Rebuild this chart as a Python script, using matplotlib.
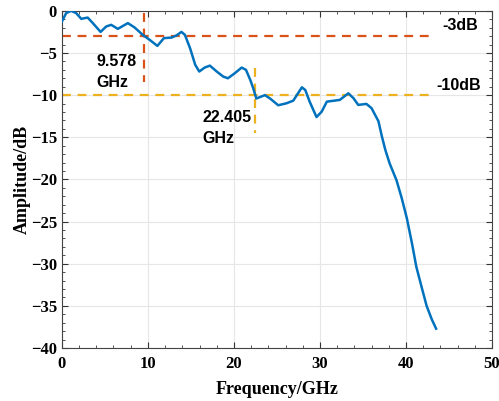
import matplotlib.pyplot as plt
import numpy as np
from matplotlib.ticker import MultipleLocator

freq = [0.0, 0.5, 1.08, 1.66, 2.25, 3.0, 3.6, 4.5, 5.15, 5.73, 6.5, 7.67,
        8.45, 9.4, 10.2, 11.1, 11.86, 12.75, 13.3, 13.9, 14.3, 14.9, 15.5,
        15.97, 16.6, 17.2, 18.0, 18.76, 19.3, 20.1, 20.9, 21.4, 21.9, 22.25,
        22.6, 23.6, 24.2, 25.15, 26.1, 26.9, 27.9, 28.3, 28.8, 29.6, 30.2,
        30.8, 31.7, 32.3, 33.3, 33.9, 34.45, 35.4, 36.0, 36.8, 37.2, 37.6,
        38.1, 38.9, 39.5, 40.1, 40.7, 41.2, 41.8, 42.4, 43.0, 43.5]
amp = [-1.27, -0.27, 0.0, -0.27, -0.95, -0.8, -1.46, -2.5, -1.86, -1.66,
       -2.14, -1.46, -1.97, -2.85, -3.44, -4.16, -3.24, -3.17, -2.93, -2.5,
       -2.85, -4.43, -6.4, -7.2, -6.73, -6.5, -7.2, -7.8, -8.0, -7.4, -6.73,
       -7.0, -8.2, -9.2, -10.4, -10.0, -10.4, -11.2, -10.97, -10.65, -9.07,
       -9.4, -10.77, -12.6, -11.96, -10.77, -10.65, -10.57, -9.78, -10.37,
       -11.16, -11.04, -11.55, -13.1, -14.9, -16.5, -18.1, -20.1, -22.2,
       -24.6, -27.6, -30.35, -32.7, -35.0, -36.6, -37.7]

f3db = 9.578
f10db = 22.405

plt.rcParams['font.family'] = 'Liberation Serif'
fig, ax = plt.subplots(figsize=(4.99, 4.01), dpi=100)
fig.subplots_adjust(left=0.124, right=0.986, top=0.973, bottom=0.132)

ax.plot(freq, amp, color="#0072BD", linewidth=1.8, zorder=3,
        solid_joinstyle="round")

# reference levels
dash = (0, (4, 3))
ax.plot([0, 43.4], [-3, -3], color="#D95319", linestyle=dash, linewidth=1.6)
ax.plot([0, 43.4], [-10, -10], color="#EDB120", linestyle=dash, linewidth=1.6)
ax.plot([f3db, f3db], [-0.25, -8.4], color="#D95319", linestyle=dash, linewidth=1.6)
ax.plot([f10db, f10db], [-6.8, -14.5], color="#EDB120", linestyle=dash, linewidth=1.6)

sans = dict(family="Liberation Sans", fontweight="bold", fontsize=11.5)
ax.text(4.0, -7.3, f"{f3db}\nGHz", ha="left", va="center", linespacing=1.5, **sans)
ax.text(16.3, -13.9, f"{f10db}\nGHz", ha="left", va="center", linespacing=1.5, **sans)
ax.text(44.2, -1.7, "-3dB", ha="left", va="center", **sans)
ax.text(43.5, -8.8, "-10dB", ha="left", va="center", **sans)

ax.set_xlim(0, 50)
ax.set_ylim(-40, 0)
ax.xaxis.set_major_locator(MultipleLocator(10))
ax.xaxis.set_minor_locator(MultipleLocator(2))
ax.yaxis.set_major_locator(MultipleLocator(5))
ax.yaxis.set_minor_locator(MultipleLocator(1))
ax.tick_params(which="both", direction="in", top=True, right=True, color="#333333")
ax.tick_params(which="major", length=4, labelsize=12)
ax.tick_params(axis="x", which="major", pad=6)
ax.tick_params(which="minor", length=2)
for lab in ax.get_xticklabels() + ax.get_yticklabels():
    lab.set_fontweight("bold")
ax.grid(True, which="major", color="#e6e6e6", linewidth=0.8)
for sp in ax.spines.values():
    sp.set_color("#444444")

ax.set_xlabel("Frequency/GHz", fontsize=13, fontweight="bold", labelpad=6)
ax.set_ylabel("Amplitude/dB", fontsize=13, fontweight="bold", labelpad=0)

plt.savefig("out.png", dpi=100)
